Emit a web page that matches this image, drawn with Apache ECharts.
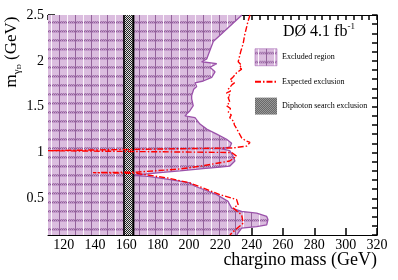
<!DOCTYPE html>
<html><head><meta charset="utf-8">
<script src="https://cdn.jsdelivr.net/npm/echarts@6/dist/echarts.min.js"></script>
<style>html,body{margin:0;padding:0;background:#fff}#c{width:398px;height:280px}</style>
</head><body><div id="c"></div>
<script>
// ---- data ----
const xMajorTicks = [120,140,160,180,200,220,240,260,280,300,320];
const yMajorTicks = [0.5,1,1.5,2,2.5];
const xMinorTicks = [110,115,120,125,130,135,140,145,150,155,160,165,170,175,180,185,190,195,200,205,210,215,220,225,230,235,240,245,250,255,260,265,270,275,280,285,290,295,300,305,310,315,320];
const yMinorTicks = [0.1,0.2,0.3,0.4,0.5,0.6,0.7,0.8,0.9,1.0,1.1,1.2,1.3,1.4,1.5,1.6,1.7,1.8,1.9,2.0,2.1,2.2,2.3,2.4,2.5];

// observed excluded-region boundary (chargino mass, m_gammaD)
const obsMass = [233.8,215.5,211.3,208.1,217.7,213.4,216.6,214.5,209.1,203.8,204.9,203.0,201.7,201.7,202.7,200.6,197.4,203.8,207.0,211.3,217.7,224.0,227.2,226.1,221.0,226.0,228.1,229.3,226.1,219.8,208.9,194.2,181.5,165.5,175.1,187.9,200.6,203.8,208.9,217.7,224.9,227.2,233.6,243.2,249.6,250.4,249.6,243.2,233.6,231.2,230.5];
const obsMgd  = [2.50,2.21,2.02,1.99,1.97,1.93,1.88,1.82,1.78,1.76,1.72,1.69,1.62,1.585,1.51,1.456,1.40,1.38,1.31,1.255,1.20,1.145,1.10,1.06,1.04,1.02,0.96,0.907,0.852,0.84,0.824,0.80,0.78,0.753,0.736,0.705,0.668,0.632,0.599,0.54,0.467,0.393,0.357,0.338,0.302,0.269,0.211,0.192,0.174,0.119,0.10];

// expected exclusion
const expMass = [238.9,237.5,236.8,235.5,234.6,233.0,231.4,233.6,232.0,233.6,230.4,231.5,228.0,226.1,229.0,227.5,228.3,225.0,226.5,224.0,226.5,225.0,226.1,224.0,226.5,225.1,227.0,226.0,228.5,229.0,230.4,232.0,233.6,236.0,238.9,236.8,228.3,110,110,227.2,230.4,226.0,207.0,194.2,166.8,138.7,166.8,187.0,200.6,208.9,219.8,230.4,231.4,228.3,233.6,234.6,228.3,226.1];
const expMgd  = [2.50,2.42,2.37,2.28,2.19,2.10,1.99,1.95,1.93,1.91,1.87,1.85,1.82,1.79,1.76,1.74,1.72,1.69,1.67,1.65,1.62,1.60,1.55,1.51,1.48,1.44,1.41,1.38,1.34,1.30,1.26,1.21,1.16,1.13,1.11,1.07,1.05,1.02,1.01,1.00,0.96,0.907,0.85,0.82,0.786,0.78,0.772,0.72,0.668,0.613,0.54,0.486,0.43,0.393,0.32,0.23,0.137,0.10];

// diphoton search exclusion band (chargino mass range)
const diphotonMass = [158.5,164.5];

const xMin = 110, xMax = 320, yMin = 0.1, yMax = 2.5;

// ---- patterns ----
function hatch(){
  const c=document.createElement('canvas'); c.width=16; c.height=9;
  const g=c.getContext('2d');
  g.fillStyle='#dbbddf'; g.fillRect(0,0,16,9);
  g.fillStyle='#c49bcb'; g.fillRect(0,3,16,3);
  g.fillStyle='#8e5f97'; for(let x=0;x<16;x+=2) g.fillRect(x,4,1,1);
  g.fillStyle='#a57aad'; for(let x=1;x<16;x+=2) g.fillRect(x,3,1,1);
  g.fillStyle='#fbf6fb'; g.fillRect(3,0,1,9);
  g.fillStyle='#93639b'; g.fillRect(11,0,1,9);
  return c;
}
function checker(){
  const c=document.createElement('canvas'); c.width=2; c.height=2;
  const g=c.getContext('2d');
  g.fillStyle='#222'; g.fillRect(0,0,2,2);
  g.fillStyle='#e0e0e0'; g.fillRect(1,0,1,1); g.fillRect(0,1,1,1);
  return c;
}
const hatchFill = {image: hatch(), repeat:'repeat'};
const checkFill = {image: checker(), repeat:'repeat'};

const serif = 'Liberation Serif';
const obsData = obsMass.map((x,i)=>[x,obsMgd[i]]);
const expData = expMass.map((x,i)=>[x,expMgd[i]]);

const chart = echarts.init(document.getElementById('c'), null, {renderer:'canvas'});
chart.setOption({
  animation:false,
  grid:{left:48, top:15, right:21, bottom:45},
  xAxis:[
    {type:'value', min:xMin, max:xMax, position:'bottom',
      axisLine:{show:true, lineStyle:{color:'#000'}},
      axisTick:{show:true, inside:true, length:7, customValues:xMajorTicks, lineStyle:{color:'#000', width:1.5}},
      axisLabel:{customValues:xMajorTicks, margin:3, fontFamily:serif, fontSize:14, color:'#000'},
      splitLine:{show:false}},
    {type:'value', min:xMin, max:xMax, position:'top',
      axisLine:{show:true, lineStyle:{color:'#000'}},
      axisTick:{show:true, inside:true, length:5, customValues:xMinorTicks, lineStyle:{color:'#000', width:1.5}},
      axisLabel:{show:false, customValues:xMajorTicks},
      splitLine:{show:false}}
  ],
  yAxis:[
    {type:'value', min:yMin, max:yMax, position:'left',
      axisLine:{show:true, lineStyle:{color:'#000'}},
      axisTick:{show:true, inside:true, length:7, customValues:yMajorTicks, lineStyle:{color:'#000', width:1.5}},
      axisLabel:{customValues:yMajorTicks, margin:4, fontFamily:serif, fontSize:14, color:'#000', formatter: v => String(v)},
      splitLine:{show:false}},
    {type:'value', min:yMin, max:yMax, position:'right',
      axisLine:{show:true, lineStyle:{color:'#000'}},
      axisTick:{show:true, inside:true, length:5, customValues:yMinorTicks, lineStyle:{color:'#000', width:1.5}},
      axisLabel:{show:false, customValues:yMajorTicks},
      splitLine:{show:false}}
  ],
  legend:{orient:'vertical', left:254, top:48.5, padding:0, itemWidth:22, itemHeight:17, itemGap:9, align:'left',
    selectedMode:false,
    textStyle:{fontFamily:serif, fontSize:8, color:'#000'},
    data:[
      {name:'Excluded region', icon:'rect', itemStyle:{color:hatchFill, borderColor:'#9b52aa', borderWidth:0.5}},
      {name:'Expected exclusion', itemStyle:{opacity:0}},
      {name:'Diphoton search exclusion', icon:'rect', itemStyle:{color:checkFill}}
    ]},
  graphic:[
    {type:'text', x:12, y:52, rotation:Math.PI/2, silent:true,
      style:{text:'{m|m}{g|γ}{d|D}{m| (GeV)}', textAlign:'center', textVerticalAlign:'middle',
        rich:{m:{fontFamily:serif, fontSize:17, lineHeight:22, fill:'#000'},
              g:{fontFamily:serif, fontSize:11, verticalAlign:'bottom', lineHeight:22, fill:'#000'},
              d:{fontFamily:serif, fontSize:7, verticalAlign:'bottom', lineHeight:20, fill:'#000'}}}},
    {type:'text', x:377, y:260, silent:true,
      style:{text:'chargino mass (GeV)', textAlign:'right', textVerticalAlign:'middle', fontFamily:serif, fontSize:18, fill:'#000'}},
    {type:'text', x:283, y:32, silent:true,
      style:{text:'{a|DØ 4.1 fb}{s|-1}', textAlign:'left', textVerticalAlign:'middle',
        rich:{a:{fontFamily:serif, fontSize:16, lineHeight:20, fill:'#000'},
              s:{fontFamily:serif, fontSize:9, verticalAlign:'top', lineHeight:20, fill:'#000'}}}}
  ],
  series:[
    {type:'custom', name:'Excluded region', clip:true, silent:true, z:1,
      itemStyle:{color:hatchFill},
      data:obsData,
      renderItem:function(params, api){
        if(params.dataIndex!==0) return null;
        const pts = obsData.map(d=>api.coord(d));
        pts.push(api.coord([xMin, obsData[obsData.length-1][1]]));
        pts.push(api.coord([xMin, obsData[0][1]]));
        return {type:'polygon', shape:{points:pts}, style:{fill:hatchFill}};
      }},
    {type:'line', name:'Excluded boundary', data:obsData, symbol:'none', silent:true, z:1,
      lineStyle:{color:'#9b52aa', width:1.3}, itemStyle:{color:'#9b52aa'}},
    {type:'custom', name:'Diphoton search exclusion', clip:true, silent:true, z:1,
      itemStyle:{color:checkFill},
      data:[[diphotonMass[0], yMax],[diphotonMass[1], yMin]],
      renderItem:function(params, api){
        if(params.dataIndex!==0) return null;
        const p0 = api.coord([diphotonMass[0], yMax]);
        const p1 = api.coord([diphotonMass[1], yMin]);
        return {type:'group', children:[
          {type:'rect', shape:{x:p0[0], y:p0[1], width:p1[0]-p0[0], height:p1[1]-p0[1]}, style:{fill:checkFill}},
          {type:'line', shape:{x1:p0[0], y1:p0[1], x2:p0[0], y2:p1[1]}, style:{stroke:'#000', lineWidth:1.5}},
          {type:'line', shape:{x1:p1[0], y1:p0[1], x2:p1[0], y2:p1[1]}, style:{stroke:'#000', lineWidth:2}}
        ]};
      }},
    {type:'line', name:'Expected exclusion', data:expData, symbol:'none', silent:true, z:1,
      lineStyle:{color:'#ff0000', width:1.4, type:[6,2,1.5,2]}, itemStyle:{color:'#ff0000'}}
  ]
});
</script></body></html>
